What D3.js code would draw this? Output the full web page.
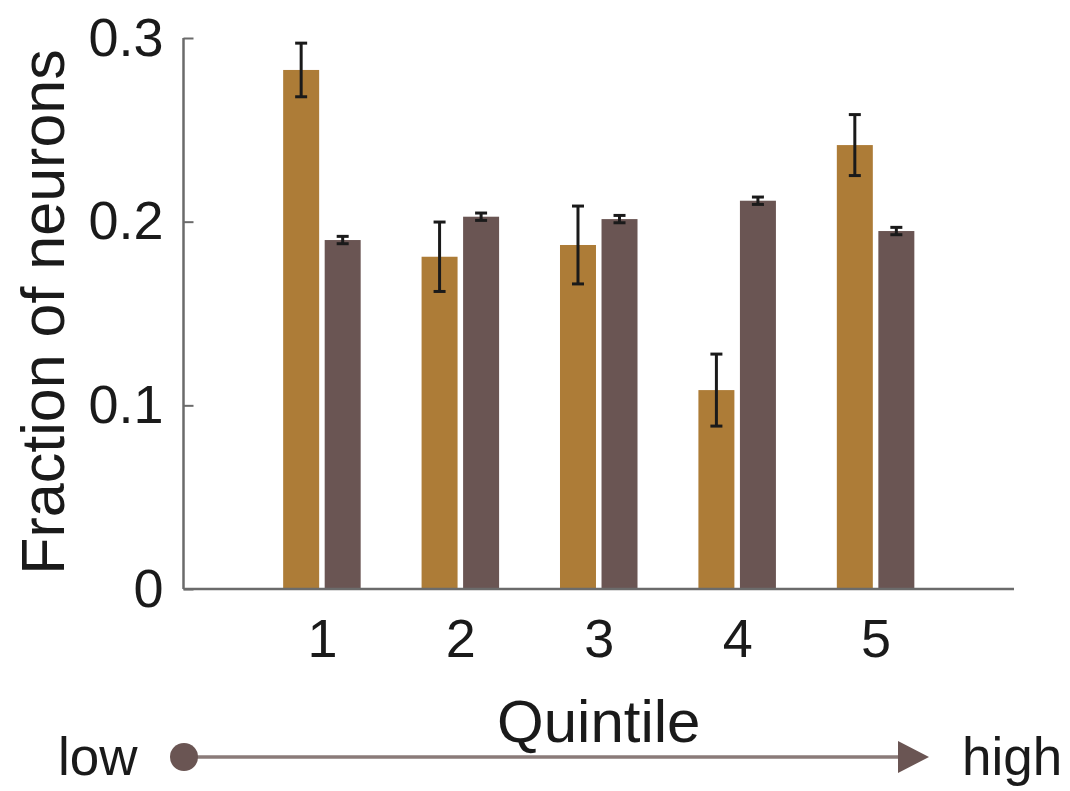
<!DOCTYPE html>
<html>
<head>
<meta charset="utf-8">
<script src="https://cdn.jsdelivr.net/npm/d3@7"></script>
<style>
  body { margin: 0; background: #fff; }
  text { font-family: 'Liberation Sans', Arial, sans-serif; fill: #1a1a1a; }
</style>
</head>
<body>
<svg width="1070" height="791"></svg>
<script>
const svg = d3.select('svg');

// data
const quintiles = [1, 2, 3, 4, 5];
const fracA = [0.2826, 0.1809, 0.1873, 0.1083, 0.2417];
const errA = [0.0146, 0.0189, 0.0212, 0.0196, 0.0166];
const fracB = [0.1900, 0.2027, 0.2014, 0.2114, 0.1949];
const errB = [0.002, 0.002, 0.002, 0.002, 0.002];
const yTicks = [0, 0.1, 0.2, 0.3];

const colorA = '#ad7c37';
const colorB = '#6a5553';
const axisColor = '#6b6b6b';

const series = [
  { vals: fracA, errs: errA, color: colorA, offset: -0.15 },
  { vals: fracB, errs: errB, color: colorB, offset: 0.15 }
];
const barW = 0.26;

const x = d3.scaleLinear().domain([0, 6]).range([183.5, 1014]);
const y = d3.scaleLinear().domain([0, 0.3]).range([589, 38]);

// bars
series.forEach(s => {
  svg.append('g').selectAll('rect')
    .data(quintiles)
    .enter().append('rect')
    .attr('x', (d, i) => x(d + s.offset - barW / 2))
    .attr('width', x(barW) - x(0))
    .attr('y', (d, i) => y(s.vals[i]))
    .attr('height', (d, i) => y(0) - y(s.vals[i]))
    .attr('fill', s.color);
});

// error bars
series.forEach(s => {
  const g = svg.append('g').attr('stroke', '#1a1a1a').attr('stroke-width', 3);
  quintiles.forEach((q, i) => {
    const cx = x(q + s.offset);
    const top = y(s.vals[i] + s.errs[i]);
    const bot = y(s.vals[i] - s.errs[i]);
    g.append('line').attr('x1', cx).attr('x2', cx).attr('y1', top).attr('y2', bot);
    g.append('line').attr('x1', cx - 6).attr('x2', cx + 6).attr('y1', top).attr('y2', top);
    g.append('line').attr('x1', cx - 6).attr('x2', cx + 6).attr('y1', bot).attr('y2', bot);
  });
});

// y axis
const yAxis = d3.axisLeft(y)
  .tickValues(yTicks)
  .tickFormat(d => d === 0 ? '0' : d3.format('.1f')(d))
  .tickSize(-10)
  .tickPadding(20);
const yAxisG = svg.append('g')
  .attr('transform', `translate(${x(0)},0)`)
  .call(yAxis);
yAxisG.select('.domain').attr('stroke', axisColor).attr('stroke-width', 2.5)
  .attr('d', `M0,${y(0.3)}V${y(0)}`);
yAxisG.selectAll('.tick line').attr('stroke', axisColor).attr('stroke-width', 2);
yAxisG.selectAll('.tick text')
  .attr('font-size', 54)
  .attr('font-family', "'Liberation Sans', Arial, sans-serif")
  .attr('fill', '#1a1a1a');

// x axis
const xAxis = d3.axisBottom(x)
  .tickValues(quintiles)
  .tickFormat(d3.format('d'))
  .tickSize(0)
  .tickPadding(30);
const xAxisG = svg.append('g')
  .attr('transform', `translate(0,${y(0)})`)
  .call(xAxis);
xAxisG.select('.domain').attr('stroke', axisColor).attr('stroke-width', 2.5)
  .attr('d', `M${x(0)},0H${x(6)}`);
xAxisG.selectAll('.tick text')
  .attr('font-size', 54)
  .attr('font-family', "'Liberation Sans', Arial, sans-serif")
  .attr('fill', '#1a1a1a');

// axis labels
svg.append('text')
  .attr('transform', `translate(64,312) rotate(-90)`)
  .attr('text-anchor', 'middle')
  .attr('font-size', 61)
  .text('Fraction of neurons');

svg.append('text')
  .attr('x', x(3))
  .attr('y', 742)
  .attr('text-anchor', 'middle')
  .attr('font-size', 60)
  .text('Quintile');

// low -> high arrow
const arrowY = 757;
svg.append('line')
  .attr('x1', 184).attr('x2', 905)
  .attr('y1', arrowY).attr('y2', arrowY)
  .attr('stroke', '#8a7b79')
  .attr('stroke-width', 3.5);
svg.append('circle')
  .attr('cx', 184).attr('cy', arrowY).attr('r', 14)
  .attr('fill', colorB);
svg.append('path')
  .attr('d', `M898,${arrowY - 16}L929,${arrowY}L898,${arrowY + 16}Z`)
  .attr('fill', colorB);

svg.append('text')
  .attr('x', 58).attr('y', 775)
  .attr('font-size', 53)
  .text('low');
svg.append('text')
  .attr('x', 962).attr('y', 775)
  .attr('font-size', 53)
  .text('high');
</script>
</body>
</html>
